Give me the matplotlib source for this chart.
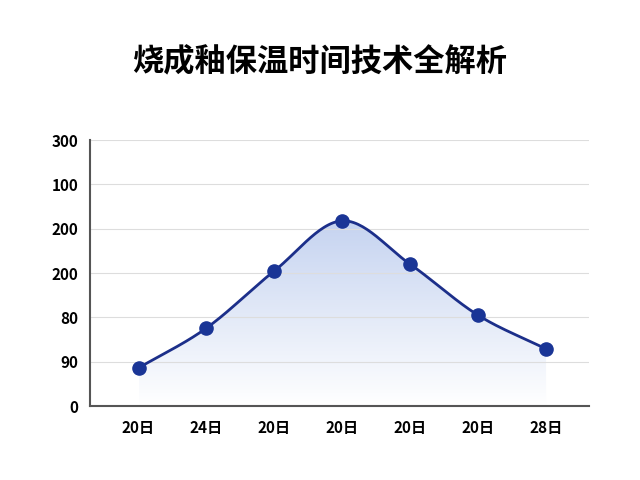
import numpy as np
import matplotlib
matplotlib.use("Agg")
import matplotlib.pyplot as plt
from matplotlib.patches import Polygon

plt.rcParams['font.family'] = ['Noto Sans CJK SC', 'DejaVu Sans']

x_labels = ["20日", "24日", "20日", "20日", "20日", "20日", "28日"]
values = [0.86, 1.76, 3.05, 4.18, 3.2, 2.05, 1.29]
y_tick_labels = ["0", "90", "80", "200", "200", "100", "300"]


def catmull_rom(xs, ys, n=30):
    px = np.concatenate([[2 * xs[0] - xs[1]], xs, [2 * xs[-1] - xs[-2]]])
    py = np.concatenate([[2 * ys[0] - ys[1]], ys, [2 * ys[-1] - ys[-2]]])
    ox, oy = [], []
    for i in range(1, len(px) - 2):
        t = np.linspace(0, 1, n, endpoint=False)
        for p, o in ((px, ox), (py, oy)):
            p0, p1, p2, p3 = p[i - 1], p[i], p[i + 1], p[i + 2]
            o.extend(0.5 * (2 * p1 + (-p0 + p2) * t + (2 * p0 - 5 * p1 + 4 * p2 - p3) * t ** 2
                            + (-p0 + 3 * p1 - 3 * p2 + p3) * t ** 3))
    ox.append(xs[-1]); oy.append(ys[-1])
    return np.array(ox), np.array(oy)


fig = plt.figure(figsize=(6.4, 4.8), dpi=100)
ax = fig.add_axes([0.14, 0.154, 0.78, 0.554])
xs = np.arange(len(values), dtype=float)
ys = np.array(values)
cx, cy = catmull_rom(xs, ys)

# gradient fill under the curve
grad = np.linspace(0, 1, 256).reshape(-1, 1)
cmap = matplotlib.colors.LinearSegmentedColormap.from_list("g", ["#ffffff", "#c5d3f0"])
img = ax.imshow(grad, cmap=cmap, aspect="auto", origin="lower",
                extent=[xs[0], xs[-1], 0, ys.max()], zorder=1)
poly = Polygon(np.column_stack([np.r_[cx, cx[-1], cx[0]], np.r_[cy, 0, 0]]),
               closed=True, transform=ax.transData, facecolor="none", edgecolor="none")
ax.add_patch(poly)
img.set_clip_path(poly)

ax.plot(cx, cy, color="#1c2f8a", lw=2, zorder=3)
ax.scatter(xs, ys, s=90, color="#1a3596", zorder=4)

ax.set_xlim(-0.72, 6.63)
ax.set_ylim(0, 6)
ax.set_yticks(range(7))
ax.set_yticklabels(y_tick_labels, fontsize=11, fontweight="bold")
ax.set_xticks(xs)
ax.set_xticklabels(x_labels, fontsize=11, fontweight="bold")
ax.grid(axis="y", color="#dddddd", lw=0.8)
for s in ["top", "right"]:
    ax.spines[s].set_visible(False)
for s in ["left", "bottom"]:
    ax.spines[s].set_color("#555555")
    ax.spines[s].set_linewidth(1.5)
ax.tick_params(length=0, pad=8)
ax.tick_params(axis="x", pad=10)

fig.text(0.5, 0.87, "烧成釉保温时间技术全解析", ha="center", va="center",
         fontsize=22.5, fontweight="bold")
fig.savefig("out.png", dpi=100)
